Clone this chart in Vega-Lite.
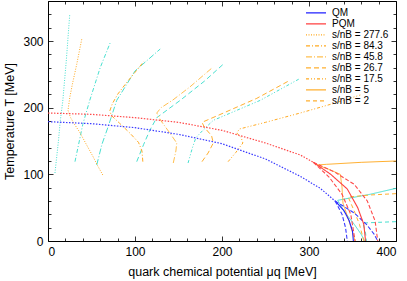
{
  "$schema": "https://vega.github.io/schema/vega-lite/v6.json",
  "width": 348,
  "height": 240,
  "autosize": {"type": "none"},
  "padding": {"left": 48, "top": 1, "right": 11, "bottom": 40},
  "background": "white",
  "config": {
    "view": {"stroke": "black", "strokeWidth": 1},
    "font": "Liberation Sans",
    "axis": {"domain": false, "grid": false, "tickColor": "black", "labelColor": "black", "titleColor": "black", "labelFont": "Liberation Sans", "titleFont": "Liberation Sans", "labelFontSize": 12, "titleFontSize": 12.5, "titleFontWeight": "normal", "tickWidth": 0.8},
    "legend": {"labelFont": "Liberation Sans", "labelFontSize": 10, "labelColor": "black"}
  },
  "data": {"values": [
    {"id":"qmco","g":"co","k":"QM co","o":0,"mu":0,"T":179},
    {"id":"qmco","g":"co","k":"QM co","o":1,"mu":50,"T":176},
    {"id":"qmco","g":"co","k":"QM co","o":2,"mu":100,"T":170},
    {"id":"qmco","g":"co","k":"QM co","o":3,"mu":150,"T":160},
    {"id":"qmco","g":"co","k":"QM co","o":4,"mu":200,"T":146},
    {"id":"qmco","g":"co","k":"QM co","o":5,"mu":250,"T":123},
    {"id":"qmco","g":"co","k":"QM co","o":6,"mu":290,"T":97},
    {"id":"qmco","g":"co","k":"QM co","o":7,"mu":313,"T":79},
    {"id":"qmco","g":"co","k":"QM co","o":8,"mu":330,"T":60},
    {"id":"pqmco","g":"co","k":"PQM co","o":0,"mu":0,"T":192},
    {"id":"pqmco","g":"co","k":"PQM co","o":1,"mu":50,"T":190},
    {"id":"pqmco","g":"co","k":"PQM co","o":2,"mu":100,"T":185},
    {"id":"pqmco","g":"co","k":"PQM co","o":3,"mu":150,"T":178},
    {"id":"pqmco","g":"co","k":"PQM co","o":4,"mu":200,"T":166},
    {"id":"pqmco","g":"co","k":"PQM co","o":5,"mu":250,"T":147},
    {"id":"pqmco","g":"co","k":"PQM co","o":6,"mu":290,"T":129},
    {"id":"pqmco","g":"co","k":"PQM co","o":7,"mu":305,"T":118},

    {"id":"qm1","g":"fo","k":"QM","o":0,"mu":330,"T":60},
    {"id":"qm1","g":"fo","k":"QM","o":1,"mu":340,"T":46},
    {"id":"qm1","g":"fo","k":"QM","o":2,"mu":346,"T":31},
    {"id":"qm1","g":"fo","k":"QM","o":3,"mu":350,"T":15},
    {"id":"qm1","g":"fo","k":"QM","o":4,"mu":351,"T":0},
    {"id":"qmsp1","g":"fo","k":"QM sp","o":0,"mu":330,"T":60},
    {"id":"qmsp1","g":"fo","k":"QM sp","o":1,"mu":352,"T":42},
    {"id":"qmsp1","g":"fo","k":"QM sp","o":2,"mu":366,"T":25},
    {"id":"qmsp1","g":"fo","k":"QM sp","o":3,"mu":375,"T":10},
    {"id":"qmsp1","g":"fo","k":"QM sp","o":4,"mu":379,"T":0},
    {"id":"qmsp2","g":"fo","k":"QM sp","o":0,"mu":330,"T":60},
    {"id":"qmsp2","g":"fo","k":"QM sp","o":1,"mu":338,"T":40},
    {"id":"qmsp2","g":"fo","k":"QM sp","o":2,"mu":342,"T":20},
    {"id":"qmsp2","g":"fo","k":"QM sp","o":3,"mu":344,"T":0},
    {"id":"pqm1","g":"fo","k":"PQM","o":0,"mu":305,"T":118},
    {"id":"pqm1","g":"fo","k":"PQM","o":1,"mu":325,"T":100},
    {"id":"pqm1","g":"fo","k":"PQM","o":2,"mu":344,"T":78},
    {"id":"pqm1","g":"fo","k":"PQM","o":3,"mu":356,"T":50},
    {"id":"pqm1","g":"fo","k":"PQM","o":4,"mu":363,"T":25},
    {"id":"pqm1","g":"fo","k":"PQM","o":5,"mu":365,"T":0},
    {"id":"pqmsp1","g":"fo","k":"PQM sp","o":0,"mu":305,"T":118},
    {"id":"pqmsp1","g":"fo","k":"PQM sp","o":1,"mu":330,"T":103},
    {"id":"pqmsp1","g":"fo","k":"PQM sp","o":2,"mu":352,"T":85},
    {"id":"pqmsp1","g":"fo","k":"PQM sp","o":3,"mu":367,"T":60},
    {"id":"pqmsp1","g":"fo","k":"PQM sp","o":4,"mu":376,"T":30},
    {"id":"pqmsp1","g":"fo","k":"PQM sp","o":5,"mu":379,"T":0},
    {"id":"pqmsp2","g":"fo","k":"PQM sp","o":0,"mu":305,"T":118},
    {"id":"pqmsp2","g":"fo","k":"PQM sp","o":1,"mu":323,"T":96},
    {"id":"pqmsp2","g":"fo","k":"PQM sp","o":2,"mu":338,"T":70},
    {"id":"pqmsp2","g":"fo","k":"PQM sp","o":3,"mu":348,"T":40},
    {"id":"pqmsp2","g":"fo","k":"PQM sp","o":4,"mu":353,"T":0},

    {"id":"o277","g":"o","k":"s/nB = 277.6","o":0,"mu":63,"T":99},
    {"id":"o277","g":"o","k":"s/nB = 277.6","o":1,"mu":57,"T":113},
    {"id":"o277","g":"o","k":"s/nB = 277.6","o":2,"mu":52,"T":126},
    {"id":"o277","g":"o","k":"s/nB = 277.6","o":3,"mu":44,"T":145},
    {"id":"o277","g":"o","k":"s/nB = 277.6","o":4,"mu":37,"T":162},
    {"id":"o277","g":"o","k":"s/nB = 277.6","o":5,"mu":30,"T":176},
    {"id":"o277","g":"o","k":"s/nB = 277.6","o":6,"mu":26,"T":185},
    {"id":"o277","g":"o","k":"s/nB = 277.6","o":7,"mu":23,"T":196},
    {"id":"o277","g":"o","k":"s/nB = 277.6","o":8,"mu":25,"T":215},
    {"id":"o277","g":"o","k":"s/nB = 277.6","o":9,"mu":28,"T":235},
    {"id":"o277","g":"o","k":"s/nB = 277.6","o":10,"mu":33,"T":265},
    {"id":"o277","g":"o","k":"s/nB = 277.6","o":11,"mu":39,"T":304},
    {"id":"o84","g":"o","k":"s/nB = 84.3","o":0,"mu":109,"T":119},
    {"id":"o84","g":"o","k":"s/nB = 84.3","o":1,"mu":108,"T":135},
    {"id":"o84","g":"o","k":"s/nB = 84.3","o":2,"mu":104,"T":148},
    {"id":"o84","g":"o","k":"s/nB = 84.3","o":3,"mu":94,"T":162},
    {"id":"o84","g":"o","k":"s/nB = 84.3","o":4,"mu":82,"T":177},
    {"id":"o84","g":"o","k":"s/nB = 84.3","o":5,"mu":73,"T":188},
    {"id":"o84","g":"o","k":"s/nB = 84.3","o":6,"mu":71,"T":195},
    {"id":"o84","g":"o","k":"s/nB = 84.3","o":7,"mu":74,"T":206},
    {"id":"o84","g":"o","k":"s/nB = 84.3","o":8,"mu":80,"T":220},
    {"id":"o84","g":"o","k":"s/nB = 84.3","o":9,"mu":90,"T":237},
    {"id":"o84","g":"o","k":"s/nB = 84.3","o":10,"mu":100,"T":253},
    {"id":"o84","g":"o","k":"s/nB = 84.3","o":11,"mu":110,"T":269},
    {"id":"o45","g":"o","k":"s/nB = 45.8","o":0,"mu":144,"T":117},
    {"id":"o45","g":"o","k":"s/nB = 45.8","o":1,"mu":147,"T":135},
    {"id":"o45","g":"o","k":"s/nB = 45.8","o":2,"mu":148,"T":147},
    {"id":"o45","g":"o","k":"s/nB = 45.8","o":3,"mu":140,"T":162},
    {"id":"o45","g":"o","k":"s/nB = 45.8","o":4,"mu":130,"T":180},
    {"id":"o45","g":"o","k":"s/nB = 45.8","o":5,"mu":125,"T":192},
    {"id":"o45","g":"o","k":"s/nB = 45.8","o":6,"mu":130,"T":200},
    {"id":"o45","g":"o","k":"s/nB = 45.8","o":7,"mu":143,"T":211},
    {"id":"o45","g":"o","k":"s/nB = 45.8","o":8,"mu":163,"T":231},
    {"id":"o45","g":"o","k":"s/nB = 45.8","o":9,"mu":188,"T":259},
    {"id":"o26","g":"o","k":"s/nB = 26.7","o":0,"mu":177,"T":119},
    {"id":"o26","g":"o","k":"s/nB = 26.7","o":1,"mu":184,"T":132},
    {"id":"o26","g":"o","k":"s/nB = 26.7","o":2,"mu":190,"T":147},
    {"id":"o26","g":"o","k":"s/nB = 26.7","o":3,"mu":188,"T":158},
    {"id":"o26","g":"o","k":"s/nB = 26.7","o":4,"mu":180,"T":170},
    {"id":"o26","g":"o","k":"s/nB = 26.7","o":5,"mu":177,"T":178},
    {"id":"o26","g":"o","k":"s/nB = 26.7","o":6,"mu":200,"T":191},
    {"id":"o26","g":"o","k":"s/nB = 26.7","o":7,"mu":240,"T":214},
    {"id":"o26","g":"o","k":"s/nB = 26.7","o":8,"mu":278,"T":241},
    {"id":"o17","g":"o","k":"s/nB = 17.5","o":0,"mu":207,"T":119},
    {"id":"o17","g":"o","k":"s/nB = 17.5","o":1,"mu":216,"T":133},
    {"id":"o17","g":"o","k":"s/nB = 17.5","o":2,"mu":224,"T":147},
    {"id":"o17","g":"o","k":"s/nB = 17.5","o":3,"mu":222,"T":155},
    {"id":"o17","g":"o","k":"s/nB = 17.5","o":4,"mu":217,"T":162},
    {"id":"o17","g":"o","k":"s/nB = 17.5","o":5,"mu":220,"T":168},
    {"id":"o17","g":"o","k":"s/nB = 17.5","o":6,"mu":250,"T":178},
    {"id":"o17","g":"o","k":"s/nB = 17.5","o":7,"mu":290,"T":192},
    {"id":"o17","g":"o","k":"s/nB = 17.5","o":8,"mu":330,"T":207},
    {"id":"o17","g":"o","k":"s/nB = 17.5","o":9,"mu":359,"T":219},
    {"id":"o5","g":"o","k":"s/nB = 5","o":0,"mu":400,"T":120},
    {"id":"o5","g":"o","k":"s/nB = 5","o":1,"mu":360,"T":118},
    {"id":"o5","g":"o","k":"s/nB = 5","o":2,"mu":320,"T":115},
    {"id":"o5","g":"o","k":"s/nB = 5","o":3,"mu":309,"T":114},
    {"id":"o5","g":"o","k":"s/nB = 5","o":4,"mu":322,"T":108},
    {"id":"o5","g":"o","k":"s/nB = 5","o":5,"mu":336,"T":100},
    {"id":"o5","g":"o","k":"s/nB = 5","o":6,"mu":338,"T":80},
    {"id":"o5","g":"o","k":"s/nB = 5","o":7,"mu":339,"T":57},
    {"id":"o5","g":"o","k":"s/nB = 5","o":8,"mu":346,"T":30},
    {"id":"o5","g":"o","k":"s/nB = 5","o":9,"mu":353,"T":0},
    {"id":"o2","g":"o","k":"s/nB = 2","o":0,"mu":400,"T":71},
    {"id":"o2","g":"o","k":"s/nB = 2","o":1,"mu":370,"T":69},
    {"id":"o2","g":"o","k":"s/nB = 2","o":2,"mu":345,"T":66},
    {"id":"o2","g":"o","k":"s/nB = 2","o":3,"mu":352,"T":45},
    {"id":"o2","g":"o","k":"s/nB = 2","o":4,"mu":358,"T":25},
    {"id":"o2","g":"o","k":"s/nB = 2","o":5,"mu":363,"T":0},

    {"id":"c277","g":"c","k":"c277.6","o":0,"mu":8,"T":102},
    {"id":"c277","g":"c","k":"c277.6","o":1,"mu":12,"T":150},
    {"id":"c277","g":"c","k":"c277.6","o":2,"mu":14,"T":179},
    {"id":"c277","g":"c","k":"c277.6","o":3,"mu":17,"T":210},
    {"id":"c277","g":"c","k":"c277.6","o":4,"mu":21,"T":270},
    {"id":"c277","g":"c","k":"c277.6","o":5,"mu":25,"T":340},
    {"id":"c84","g":"c","k":"c84.3","o":0,"mu":31,"T":119},
    {"id":"c84","g":"c","k":"c84.3","o":1,"mu":36,"T":150},
    {"id":"c84","g":"c","k":"c84.3","o":2,"mu":40,"T":175},
    {"id":"c84","g":"c","k":"c84.3","o":3,"mu":48,"T":211},
    {"id":"c84","g":"c","k":"c84.3","o":4,"mu":60,"T":260},
    {"id":"c84","g":"c","k":"c84.3","o":5,"mu":72,"T":299},
    {"id":"c45","g":"c","k":"c45.8","o":0,"mu":56,"T":114},
    {"id":"c45","g":"c","k":"c45.8","o":1,"mu":62,"T":145},
    {"id":"c45","g":"c","k":"c45.8","o":2,"mu":69,"T":171},
    {"id":"c45","g":"c","k":"c45.8","o":3,"mu":79,"T":211},
    {"id":"c45","g":"c","k":"c45.8","o":4,"mu":100,"T":255},
    {"id":"c45","g":"c","k":"c45.8","o":5,"mu":129,"T":288},
    {"id":"c26","g":"c","k":"c26.7","o":0,"mu":102,"T":119},
    {"id":"c26","g":"c","k":"c26.7","o":1,"mu":110,"T":145},
    {"id":"c26","g":"c","k":"c26.7","o":2,"mu":117,"T":166},
    {"id":"c26","g":"c","k":"c26.7","o":3,"mu":125,"T":185},
    {"id":"c26","g":"c","k":"c26.7","o":4,"mu":152,"T":211},
    {"id":"c26","g":"c","k":"c26.7","o":5,"mu":180,"T":240},
    {"id":"c26","g":"c","k":"c26.7","o":6,"mu":203,"T":267},
    {"id":"c17","g":"c","k":"c17.5","o":0,"mu":161,"T":117},
    {"id":"c17","g":"c","k":"c17.5","o":1,"mu":166,"T":140},
    {"id":"c17","g":"c","k":"c17.5","o":2,"mu":170,"T":155},
    {"id":"c17","g":"c","k":"c17.5","o":3,"mu":178,"T":166},
    {"id":"c17","g":"c","k":"c17.5","o":4,"mu":190,"T":181},
    {"id":"c17","g":"c","k":"c17.5","o":5,"mu":244,"T":211},
    {"id":"c17","g":"c","k":"c17.5","o":6,"mu":290,"T":244},
    {"id":"c5","g":"c","k":"c5","o":0,"mu":400,"T":79},
    {"id":"c5","g":"c","k":"c5","o":1,"mu":370,"T":70},
    {"id":"c5","g":"c","k":"c5","o":2,"mu":345,"T":64},
    {"id":"c5","g":"c","k":"c5","o":3,"mu":333,"T":61},
    {"id":"c5","g":"c","k":"c5","o":4,"mu":340,"T":45},
    {"id":"c5","g":"c","k":"c5","o":5,"mu":352,"T":25},
    {"id":"c5","g":"c","k":"c5","o":6,"mu":360,"T":10},
    {"id":"c5","g":"c","k":"c5","o":7,"mu":364,"T":0},
    {"id":"c2","g":"c","k":"c2","o":0,"mu":400,"T":29},
    {"id":"c2","g":"c","k":"c2","o":1,"mu":380,"T":28},
    {"id":"c2","g":"c","k":"c2","o":2,"mu":362,"T":27},
    {"id":"c2","g":"c","k":"c2","o":3,"mu":365,"T":12},
    {"id":"c2","g":"c","k":"c2","o":4,"mu":366,"T":0}
  ]},
  "encoding": {
    "x": {"field": "mu", "type": "quantitative", "scale": {"domain": [0, 400], "nice": false}},
    "y": {"field": "T", "type": "quantitative", "scale": {"domain": [0, 360], "nice": false}},
    "detail": {"field": "id"},
    "order": {"field": "o", "type": "quantitative"},
    "color": {"field": "k", "type": "nominal",
      "scale": {
        "domain": ["QM","PQM","s/nB = 277.6","s/nB = 84.3","s/nB = 45.8","s/nB = 26.7","s/nB = 17.5","s/nB = 5","s/nB = 2","QM co","QM sp","PQM co","PQM sp","c277.6","c84.3","c45.8","c26.7","c17.5","c5","c2"],
        "range": ["#2020ff","#ff4040","#ffaa22","#ffaa22","#ffc050","#ffb030","#ffaa22","#ffb030","#ffb030","#3a3aff","#3a3aff","#ff4a4a","#ff4a4a","#48e0d0","#48e0d0","#48e0d0","#48e0d0","#48e0d0","#48e0d0","#48e0d0"]},
      "legend": {"values": ["QM","PQM","s/nB = 277.6","s/nB = 84.3","s/nB = 45.8","s/nB = 26.7","s/nB = 17.5","s/nB = 5","s/nB = 2"], "title": null, "orient": "top-right", "offset": 7, "padding": 0, "symbolType": "stroke", "symbolSize": 400, "symbolStrokeWidth": 1.2, "rowPadding": 0, "clipHeight": 9.6, "labelOffset": 5}},
    "strokeDash": {"field": "k", "type": "nominal",
      "scale": {
        "domain": ["QM","PQM","s/nB = 277.6","s/nB = 84.3","s/nB = 45.8","s/nB = 26.7","s/nB = 17.5","s/nB = 5","s/nB = 2","QM co","QM sp","PQM co","PQM sp","c277.6","c84.3","c45.8","c26.7","c17.5","c5","c2"],
        "range": [[1,0],[1,0],[1,1.5],[4,2,1,2],[6,2,1,2],[5,3],[3,2,1,2,1,2],[1,0],[4,3],[1.5,1.5],[4,2],[1.5,1.5],[4,2],[1,1.5],[4,2,1,2],[6,2,1,2],[5,3],[3,2,1,2,1,2],[1,0],[4,3]]},
      "legend": {"values": ["QM","PQM","s/nB = 277.6","s/nB = 84.3","s/nB = 45.8","s/nB = 26.7","s/nB = 17.5","s/nB = 5","s/nB = 2"], "title": null}}
  },
  "layer": [
    {
      "transform": [{"filter": "datum.g == 'c'"}],
      "mark": {"type": "line", "strokeWidth": 1, "clip": true},
      "encoding": {
        "x": {"field": "mu", "type": "quantitative", "axis": {"orient": "bottom", "values": [0,100,200,300,400], "ticks": false, "labelPadding": 5, "title": "quark chemical potential  μq  [MeV]", "titlePadding": 8}},
        "y": {"field": "T", "type": "quantitative", "axis": {"orient": "left", "values": [0,100,200,300], "ticks": false, "labelPadding": 5, "title": "Temperature  T  [MeV]", "titlePadding": 6}}
      }
    },
    {
      "transform": [{"filter": "datum.g == 'o'"}],
      "mark": {"type": "line", "strokeWidth": 1, "clip": true},
      "encoding": {
        "x": {"field": "mu", "type": "quantitative", "axis": {"orient": "top", "offset": -240, "values": [0,20,40,60,80,100,120,140,160,180,200,220,240,260,280,300,320,340,360,380,400], "tickSize": {"condition": {"test": "datum.value % 100 === 0", "value": 5}, "value": 3}, "labels": false, "title": null}},
        "y": {"field": "T", "type": "quantitative", "axis": {"orient": "right", "offset": -348, "values": [0,20,40,60,80,100,120,140,160,180,200,220,240,260,280,300,320,340,360], "tickSize": {"condition": {"test": "datum.value % 100 === 0", "value": 5}, "value": 3}, "labels": false, "title": null}}
      }
    },
    {
      "transform": [{"filter": "datum.g == 'co'"}],
      "mark": {"type": "line", "strokeWidth": 1.2, "clip": true},
      "encoding": {
        "x": {"field": "mu", "type": "quantitative", "axis": {"orient": "bottom", "offset": -240, "values": [0,20,40,60,80,100,120,140,160,180,200,220,240,260,280,300,320,340,360,380,400], "tickSize": {"condition": {"test": "datum.value % 100 === 0", "value": 5}, "value": 3}, "labels": false, "title": null}},
        "y": {"field": "T", "type": "quantitative", "axis": {"orient": "left", "offset": -348, "values": [0,20,40,60,80,100,120,140,160,180,200,220,240,260,280,300,320,340,360], "tickSize": {"condition": {"test": "datum.value % 100 === 0", "value": 5}, "value": 3}, "labels": false, "title": null}}
      }
    },
    {
      "transform": [{"filter": "datum.g == 'fo'"}],
      "mark": {"type": "line", "strokeWidth": 1.1, "clip": true},
      "encoding": {
        "x": {"field": "mu", "type": "quantitative", "axis": null},
        "y": {"field": "T", "type": "quantitative", "axis": null}
      }
    }
  ],
  "resolve": {"axis": {"x": "independent", "y": "independent"}}
}
